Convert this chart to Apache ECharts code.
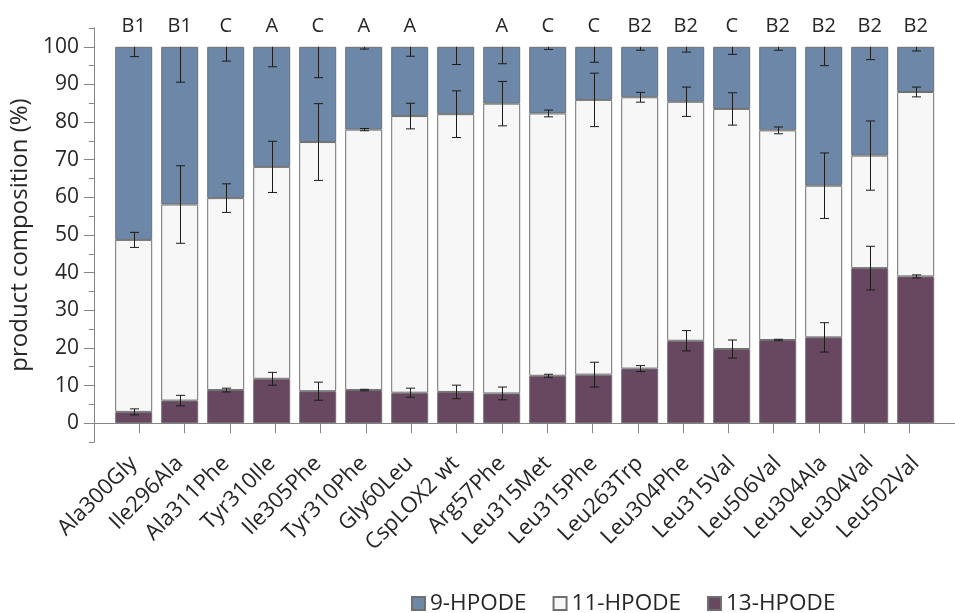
<!DOCTYPE html>
<html>
<head>
<meta charset="utf-8">
<script src="https://cdn.jsdelivr.net/npm/echarts@6/dist/echarts.min.js"></script>
<style>
  html, body { margin: 0; padding: 0; background: #ffffff; }
  #chart { width: 955px; height: 613px; }
</style>
</head>
<body>
<div id="chart"></div>
<script>
// Enzyme variants (x axis) and the significance group printed above each bar
const categories = ['Ala300Gly', 'Ile296Ala', 'Ala311Phe', 'Tyr310Ile', 'Ile305Phe', 'Tyr310Phe',
  'Gly60Leu', 'CspLOX2 wt', 'Arg57Phe', 'Leu315Met', 'Leu315Phe', 'Leu263Trp',
  'Leu304Phe', 'Leu315Val', 'Leu506Val', 'Leu304Ala', 'Leu304Val', 'Leu502Val'];
const groupLetters = ['B1', 'B1', 'C', 'A', 'C', 'A', 'A', '', 'A', 'C', 'C', 'B2',
  'B2', 'C', 'B2', 'B2', 'B2', 'B2'];

// Product shares in percent (stacked bottom to top: 13-, 11-, 9-HPODE)
const hpode13 = [3.0, 6.0, 8.8, 11.8, 8.5, 8.8, 8.1, 8.3, 7.9, 12.6, 12.9, 14.5, 21.9, 19.7, 22.1, 22.8, 41.2, 39.0];
const hpode11 = [45.7, 52.1, 51.0, 56.3, 66.2, 69.2, 73.5, 73.8, 77.0, 69.7, 73.0, 72.1, 63.5, 63.8, 55.7, 40.3, 29.9, 49.0];
const hpode9 = [51.3, 41.9, 40.2, 31.9, 25.3, 22.0, 18.4, 17.9, 15.1, 17.7, 14.1, 13.4, 14.6, 16.5, 22.2, 36.9, 28.9, 12.0];

// Standard deviations of each product share
const err13 = [0.8, 1.4, 0.5, 1.7, 2.4, 0.2, 1.2, 1.8, 1.7, 0.4, 3.3, 0.8, 2.7, 2.4, 0.2, 3.9, 5.8, 0.4];
const err11 = [2.0, 10.3, 3.8, 6.8, 10.2, 0.3, 3.4, 6.2, 5.9, 0.9, 7.1, 1.3, 3.9, 4.3, 0.9, 8.7, 9.2, 1.3];
const err9 = [2.6, 9.4, 3.8, 5.3, 8.2, 0.6, 2.5, 4.7, 4.5, 0.7, 4.1, 0.9, 1.4, 2.0, 0.9, 5.0, 3.4, 1.1];

// Value axis ticks
const yLabelValues = [0, 10, 20, 30, 40, 50, 60, 70, 80, 90, 100];
const yMinorValues = [-5, 5, 15, 25, 35, 45, 55, 65, 75, 85, 95, 105];

const FONT = 'Open Sans';
const TEXT = '#262626';
const AXIS = '#858585';
const C9 = '#6c87a8';
const C11 = '#f7f7f7';
const C13 = '#674860';

// Error bar positions sit on the top of each stacked segment
const errData13 = [], errData11 = [], errData9 = [];
categories.forEach((c, i) => {
  const top13 = hpode13[i];
  const top11 = top13 + hpode11[i];
  const top9 = top11 + hpode9[i];
  errData13.push([i, top13, err13[i], 0]);
  errData11.push([i, top11, err11[i], 0]);
  errData9.push([i, top9, err9[i], 1]);
});

function renderErrorBar(params, api) {
  const x = api.value(0);
  const y = api.value(1);
  const e = api.value(2);
  const lowerOnly = api.value(3) === 1;
  const lo = api.coord([x, y - e]);
  const hi = api.coord([x, lowerOnly ? y : y + e]);
  const cx = Math.round(lo[0]) + 0.5;
  const cap = 4.5;
  const style = { stroke: '#1c1c1c', lineWidth: 1 };
  const children = [
    { type: 'line', shape: { x1: cx, y1: lo[1], x2: cx, y2: hi[1] }, style },
    { type: 'line', shape: { x1: cx - cap, y1: lo[1], x2: cx + cap, y2: lo[1] }, style }
  ];
  if (!lowerOnly) {
    children.push({ type: 'line', shape: { x1: cx - cap, y1: hi[1], x2: cx + cap, y2: hi[1] }, style });
  }
  return { type: 'group', children };
}

const GRID_TOP = 28;
const GRID_BOTTOM = 171;

const barStyle = (color) => ({ color, borderColor: '#707070', borderWidth: 1 });

const option = {
  animation: false,
  textStyle: { fontFamily: FONT, color: TEXT },
  grid: [
    // frame grid: carries the axis lines and ticks
    { left: 88, right: -7, top: GRID_TOP, bottom: GRID_BOTTOM },
    // plot grid: carries the bars
    { left: 110.7, right: 16.3, top: GRID_TOP, bottom: GRID_BOTTOM }
  ],
  legend: {
    data: ['9-HPODE', '11-HPODE', '13-HPODE'],
    left: 406,
    top: 587,
    icon: 'rect',
    itemWidth: 13,
    itemHeight: 13,
    itemGap: 26,
    textStyle: { fontFamily: FONT, fontSize: 22.5, color: TEXT }
  },
  xAxis: [
    {
      gridIndex: 0, type: 'value', min: 0, max: 19, interval: 1,
      axisLine: { show: true, lineStyle: { color: AXIS, width: 1 } },
      axisTick: { show: true, length: 10, lineStyle: { color: AXIS } },
      axisLabel: { show: false },
      splitLine: { show: false }
    },
    {
      gridIndex: 1, type: 'category', data: categories,
      axisLine: { show: false },
      axisTick: { show: false },
      axisLabel: {
        interval: 0, rotate: 45, margin: 18,
        fontFamily: FONT, fontSize: 22, color: TEXT
      }
    },
    {
      gridIndex: 1, type: 'category', data: groupLetters, position: 'top',
      axisLine: { show: false },
      axisTick: { show: false },
      axisLabel: {
        interval: 0, margin: 2, verticalAlign: 'middle',
        fontFamily: FONT, fontSize: 20, color: TEXT
      }
    }
  ],
  yAxis: [
    {
      gridIndex: 0, type: 'value', min: -5, max: 105,
      name: 'product composition (%)',
      nameLocation: 'middle',
      nameGap: 46,
      nameTextStyle: { fontFamily: FONT, fontSize: 24, color: TEXT },
      axisLine: { show: true, lineStyle: { color: AXIS, width: 1 } },
      axisTick: { show: true, length: 10, customValues: yLabelValues, lineStyle: { color: AXIS } },
      axisLabel: { show: true, customValues: yLabelValues, margin: 15, fontFamily: FONT, fontSize: 21, color: TEXT },
      splitLine: { show: false }
    },
    {
      gridIndex: 0, type: 'value', min: -5, max: 105, position: 'left',
      axisLine: { show: true, lineStyle: { color: AXIS, width: 1 } },
      axisTick: { show: true, length: 5, customValues: yMinorValues, lineStyle: { color: AXIS } },
      axisLabel: { show: false },
      splitLine: { show: false }
    },
    {
      gridIndex: 1, type: 'value', min: -5, max: 105, show: false
    }
  ],
  series: [
    {
      name: '13-HPODE', type: 'bar', stack: 'share', xAxisIndex: 1, yAxisIndex: 2,
      barWidth: 37, data: hpode13, itemStyle: barStyle(C13)
    },
    {
      name: '11-HPODE', type: 'bar', stack: 'share', xAxisIndex: 1, yAxisIndex: 2,
      barWidth: 37, data: hpode11, itemStyle: barStyle(C11)
    },
    {
      name: '9-HPODE', type: 'bar', stack: 'share', xAxisIndex: 1, yAxisIndex: 2,
      barWidth: 37, data: hpode9, itemStyle: barStyle(C9)
    },
    {
      type: 'custom', xAxisIndex: 1, yAxisIndex: 2, renderItem: renderErrorBar,
      data: errData13, z: 5, silent: true
    },
    {
      type: 'custom', xAxisIndex: 1, yAxisIndex: 2, renderItem: renderErrorBar,
      data: errData11, z: 5, silent: true
    },
    {
      type: 'custom', xAxisIndex: 1, yAxisIndex: 2, renderItem: renderErrorBar,
      data: errData9, z: 5, silent: true
    }
  ]
};

const chart = echarts.init(document.getElementById('chart'), null, { renderer: 'canvas' });
chart.setOption(option);
</script>
</body>
</html>
